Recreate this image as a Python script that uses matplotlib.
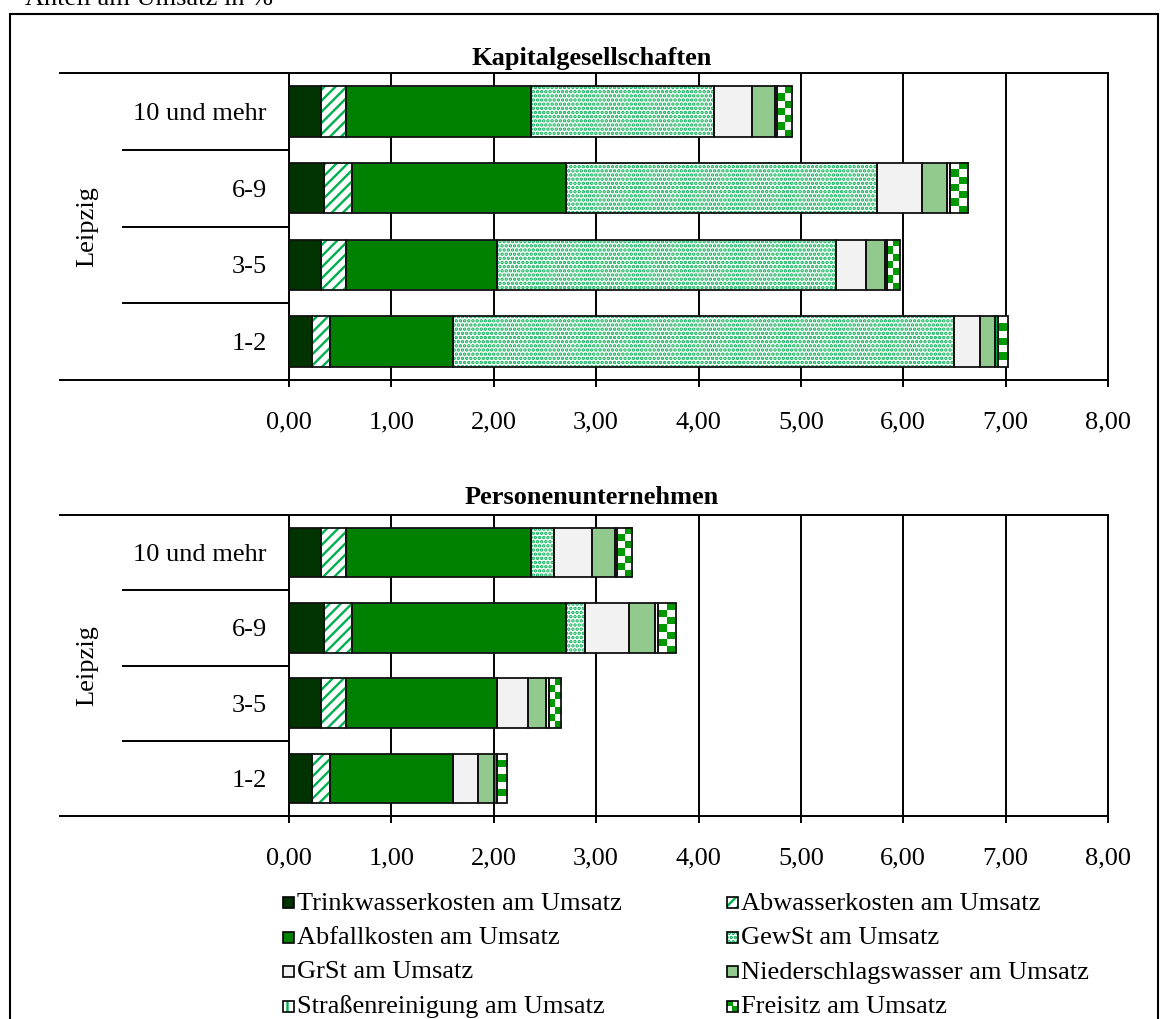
import numpy as np
import matplotlib
matplotlib.use('Agg')
import matplotlib.pyplot as plt
from matplotlib.patches import Rectangle
from matplotlib.colors import ListedColormap

# ---------------- data ----------------
categories = ['1-2', '3-5', '6-9', '10 und mehr']
region = 'Leipzig'
panel_titles = ['Kapitalgesellschaften', 'Personenunternehmen']

trinkwasser = [0.22, 0.31, 0.345, 0.31]
abwasser = [0.18, 0.245, 0.275, 0.25]
abfall = [1.20, 1.475, 2.087, 1.805]
gewst_kapital = [4.90, 3.31, 3.04, 1.783]
gewst_personen = [0.00, 0.00, 0.187, 0.22]
grst = [0.245, 0.30, 0.432, 0.378]
niederschlag = [0.155, 0.18, 0.25, 0.22]
strassenreinigung = [0.028, 0.025, 0.025, 0.018]
freisitz = [0.10, 0.125, 0.18, 0.15]

series_names = ['Trinkwasserkosten am Umsatz', 'Abwasserkosten am Umsatz',
                'Abfallkosten am Umsatz', 'GewSt am Umsatz', 'GrSt am Umsatz',
                'Niederschlagswasser am Umsatz', 'Straßenreinigung am Umsatz',
                'Freisitz am Umsatz']
xticks = list(range(0, 9))
xtick_labels = ['0,00', '1,00', '2,00', '3,00', '4,00', '5,00', '6,00', '7,00', '8,00']
axis_title = 'Anteil am Umsatz in %'

# ---------------- styles ----------------
plt.rcParams['font.family'] = ['Liberation Serif', 'DejaVu Serif']
plt.rcParams['hatch.linewidth'] = 1.7
FS = 19
EDGE_LW = 1.3
GREEN_PAT = '#00B050'
CHECK_GREEN = '#009900'
# (facecolor, hatch, hatchcolor, checker)
styles = [
    ('#003300', None, None, False),
    ('white', '///', GREEN_PAT, False),
    ('#008000', None, None, False),
    ('white', '....', GREEN_PAT, False),
    ('#F2F2F2', None, None, False),
    ('#92C98F', None, None, False),
    ('white', '||', GREEN_PAT, False),
    ('white', None, None, True),
]

W, H = 1161, 1019
fig = plt.figure(figsize=(W / 100, H / 100), dpi=100)


def px_axes(left, top, right, bottom):
    return fig.add_axes([left / W, 1 - bottom / H, (right - left) / W, (bottom - top) / H])


checker_cmap = ListedColormap(['white', CHECK_GREEN])


def draw_panel(ax, gewst, title, title_y):
    ax.set_xlim(0, 8)
    ax.set_ylim(-0.5, 3.5)
    y = np.arange(len(categories))
    values = [trinkwasser, abwasser, abfall, gewst, grst, niederschlag,
              strassenreinigung, freisitz]
    left = np.zeros(len(categories))
    bh = 0.66
    for vals, (fc, hatch, hc, checker) in zip(values, styles):
        vals = np.asarray(vals, dtype=float)
        if hatch:
            ax.barh(y, vals, left=left, height=bh, color='white', edgecolor=hc,
                    hatch=hatch, linewidth=0, zorder=2)
        else:
            bars = ax.barh(y, vals, left=left, height=bh, color=fc,
                           linewidth=0, zorder=2)
            if checker:
                for p in bars.patches:
                    if p.get_width() <= 0:
                        continue
                    x0, y0 = p.get_x(), p.get_y()
                    x1, y1 = x0 + p.get_width(), y0 + p.get_height()
                    (dx0, dy0), (dx1, dy1) = ax.transData.transform([(x0, y0), (x1, y1)])
                    ncol = max(1, int(round(abs(dx1 - dx0) / 7.5)))
                    nrow = max(1, int(round(abs(dy1 - dy0) / 7.3)))
                    arr = (np.add.outer(np.arange(nrow), np.arange(ncol)) % 2)
                    ax.imshow(arr, extent=(x0, x1, y0, y1), cmap=checker_cmap,
                              interpolation='nearest', aspect='auto', zorder=2.5,
                              vmin=0, vmax=1)
        ax.barh(y, vals, left=left, height=bh, fill=False, edgecolor='#111111',
                linewidth=EDGE_LW, zorder=3)
        left = left + vals
    ax.set_xlim(0, 8)
    ax.set_ylim(-0.5, 3.5)

    # grid and axes
    ax.set_xticks(xticks)
    ax.set_xticklabels(xtick_labels, fontsize=FS)
    ax.xaxis.grid(True, color='black', linewidth=1.4, zorder=0.5)
    ax.set_axisbelow(True)
    ax.tick_params(axis='x', direction='out', length=5, width=1.4, pad=17.5)
    ax.set_yticks([-0.5, 0.5, 1.5, 2.5, 3.5])
    ax.set_yticklabels([])
    ax.tick_params(axis='y', which='major', direction='out', length=6, width=1.4)
    ax.set_yticks(y, minor=True)
    ax.set_yticklabels(categories, minor=True, fontsize=FS)
    ax.tick_params(axis='y', which='minor', length=0, pad=16)
    for s in ax.spines.values():
        s.set_linewidth(1.4)
        s.set_color('black')

    # category table lines in the label area
    ytr = ax.get_yaxis_transform()
    x_outer = (60 - 289) / 819
    x_inner = (123 - 289) / 819
    for b in [-0.5, 3.5]:
        ax.plot([x_outer, 0], [b, b], transform=ytr, color='black', lw=1.4, clip_on=False)
    for b in [0.5, 1.5, 2.5]:
        ax.plot([x_inner, 0], [b, b], transform=ytr, color='black', lw=1.4, clip_on=False)

    ax.text((87 - 289) / 819, 0.5, region, rotation=90, transform=ax.transAxes,
            ha='center', va='center', fontsize=FS)
    fig.text(592 / W, 1 - title_y / H, title, ha='center', va='center',
             fontsize=FS, fontweight='bold')


ax1 = px_axes(289, 73, 1108, 380)
ax2 = px_axes(289, 515, 1108, 816)
draw_panel(ax1, gewst_kapital, panel_titles[0], 59)
draw_panel(ax2, gewst_personen, panel_titles[1], 498)

# ---------------- legend ----------------
rows_y = [903.5, 938, 972.5, 1007]
col_marker_x = [283, 727]
col_text_x = [297, 741]
S = 11
for i, (name, (fc, hatch, hc, checker)) in enumerate(zip(series_names, styles)):
    row, col = divmod(i, 2)
    yc = rows_y[row]
    mx = col_marker_x[col]
    rx, ry = mx / W, 1 - (yc - 1 + S / 2) / H
    rw, rh = S / W, S / H
    if hatch:
        fig.add_artist(Rectangle((rx, ry), rw, rh, transform=fig.transFigure,
                                 facecolor='white', edgecolor=hc, hatch=hatch, lw=0))
    else:
        fig.add_artist(Rectangle((rx, ry), rw, rh, transform=fig.transFigure,
                                 facecolor=fc, lw=0))
        if checker:
            for qx, qy in [(0, 1), (1, 0)]:
                fig.add_artist(Rectangle((rx + qx * rw / 2, ry + qy * rh / 2), rw / 2, rh / 2,
                                         transform=fig.transFigure,
                                         facecolor=CHECK_GREEN, lw=0))
    fig.add_artist(Rectangle((rx, ry), rw, rh, transform=fig.transFigure,
                             fill=False, edgecolor='black', lw=1.2))
    fig.text(col_text_x[col] / W, 1 - yc / H, name, ha='left', va='center', fontsize=FS)

# ---------------- frame and cut-off axis title ----------------
fig.add_artist(Rectangle((10 / W, -0.02), (1158 - 10) / W, 1 - 14 / H + 0.02,
                         transform=fig.transFigure, fill=False, edgecolor='black', lw=1.5))
fig.text(25 / W, 1 - 5 / H, axis_title, ha='left', va='baseline', fontsize=FS)

fig.savefig('out.png', dpi=100)
